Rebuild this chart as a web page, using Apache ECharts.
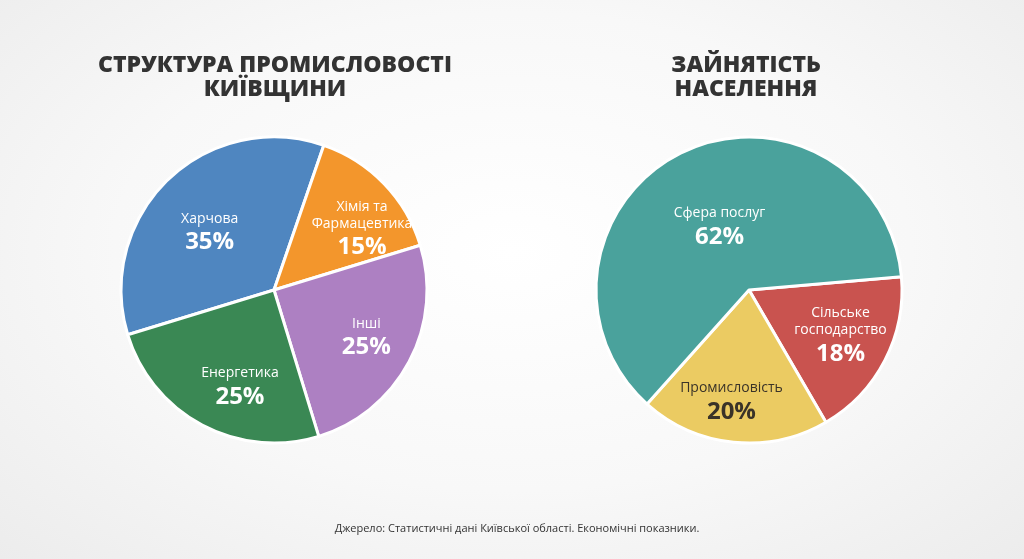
<!DOCTYPE html>
<html>
<head>
<meta charset="utf-8">
<script src="https://cdn.jsdelivr.net/npm/echarts@6/dist/echarts.min.js"></script>
<style>
  html, body { margin: 0; padding: 0; }
  body {
    width: 1024px; height: 559px; overflow: hidden;
    background: radial-gradient(ellipse at 50% 45%, #ffffff 0%, #f8f8f8 55%, #ececec 100%);
  }
  #chart { width: 1024px; height: 559px; }
</style>
</head>
<body>
<div id="chart"></div>
<script>
// industry structure (left pie)
const industryNames = ["Харчова", "Хімія та\nФармацевтика", "Інші", "Енергетика"];
const industryValues = [35, 15, 25, 25];
const industryColors = ["#4f86c0", "#f3962c", "#ad80c2", "#3a8854"];

// employment (right pie)
const employNames = ["Сільське\nгосподарство", "Промисловість", "Сфера послуг"];
const employValues = [18, 20, 62];
const employColors = ["#c9534f", "#ebcb62", "#4aa29c"];

const FONT = "'Open Sans', 'Noto Sans', sans-serif";
const R = 153;      // pie radius (white border adds ~1.5px)
const R_LBL = 155;  // reference radius for label placement

// label placement: [share of radius, angle tweak in degrees clockwise]
const industryLabelPos = [[0.55, -5], [0.685, 10], [0.675, 0], [0.675, -9]];
const employLabelPos = [[0.665, 0], [0.74, 3], [0.44, 1]];

const chart = echarts.init(document.getElementById("chart"), null, { renderer: "canvas" });

function makeLayout(center, values, startAngle, pos) {
  const total = values.reduce((a, b) => a + b, 0);
  return function (params) {
    let acc = 0;
    for (let i = 0; i < params.dataIndex; i++) acc += values[i];
    const mid = acc + values[params.dataIndex] / 2;
    const p = pos[params.dataIndex];
    // echarts angle: degrees ccw from 3 o'clock, slices run clockwise
    const ang = (startAngle - (mid / total) * 360 - p[1]) * Math.PI / 180;
    const r = R_LBL * p[0];
    return {
      x: center[0] + r * Math.cos(ang),
      y: center[1] - r * Math.sin(ang)
    };
  };
}

function richFor(color) {
  return {
    n: { fontFamily: FONT, fontSize: 14, color: color, lineHeight: 17, align: "center" },
    p: { fontFamily: FONT, fontSize: 24, fontWeight: "bold", color: color, lineHeight: 31, align: "center" }
  };
}

function pieSeries(names, values, colors, center, startAngle, pos, dark) {
  return {
    type: "pie",
    center: center,
    radius: R,
    startAngle: startAngle,
    clockwise: true,
    silent: true,
    animation: false,
    itemStyle: { borderColor: "#ffffff", borderWidth: 3 },
    label: {
      show: true,
      position: "inside",
      formatter: "{n|{b}}\n{p|{c}%}",
      align: "center",
      verticalAlign: "middle",
      rich: richFor("#ffffff")
    },
    labelLine: { show: false },
    labelLayout: makeLayout(center, values, startAngle, pos),
    data: names.map((n, i) => {
      const d = { name: n, value: values[i], itemStyle: { color: colors[i] } };
      if (dark && dark[i]) d.label = { rich: richFor("#3a3328") };
      return d;
    })
  };
}

const titleStyle = { fontFamily: FONT, fontSize: 23, fontWeight: 800, color: "#333333", lineHeight: 24 };

chart.setOption({
  backgroundColor: "transparent",
  title: [
    { text: "СТРУКТУРА ПРОМИСЛОВОСТІ\nКИЇВЩИНИ", left: 270, top: 48, textAlign: "center", textStyle: titleStyle },
    { text: "ЗАЙНЯТІСТЬ\nНАСЕЛЕННЯ", left: 741, top: 48, textAlign: "center", textStyle: titleStyle },
    { text: "Джерело: Статистичні дані Київської області. Економічні показники.", left: 512, top: 518, textAlign: "center",
      textStyle: { fontFamily: FONT, fontSize: 11, fontWeight: "normal", color: "#333333" } }
  ],
  series: [
    pieSeries(industryNames, industryValues, industryColors, [274, 290], 197, industryLabelPos, null),
    pieSeries(employNames, employValues, employColors, [749, 290], 5, employLabelPos, [false, true, false])
  ]
});
</script>
</body>
</html>
